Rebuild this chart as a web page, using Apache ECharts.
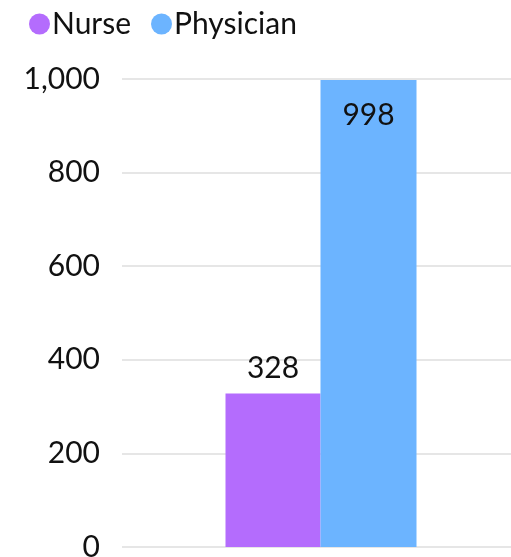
<!DOCTYPE html>
<html><head><meta charset="utf-8">
<script src="https://cdn.jsdelivr.net/npm/echarts@6/dist/echarts.min.js"></script>
<style>html,body{margin:0;padding:0;background:#fff}#c{width:511px;height:557px}</style>
</head><body><div id="c"></div>
<script>
const categories = [''];
const seriesNames = ['Nurse', 'Physician'];
const nurseValues = [328];
const physicianValues = [998];
const colors = ['#b46cfd', '#6cb4ff'];
const FONT = 'Lato';
const chart = echarts.init(document.getElementById('c'));
chart.setOption({
  animation: false,
  textStyle: {fontFamily: FONT},
  legend: {
    left: 24, top: 4, itemGap: 20, itemWidth: 21, itemHeight: 21, icon: 'circle',
    textStyle: {fontSize: 30, color: '#111', fontFamily: FONT, padding: [0,0,0,-3]},
    data: seriesNames
  },
  grid: {left: 122, right: -9, top: 79, bottom: 10, containLabel: false, outerBoundsMode: 'none'},
  xAxis: {type: 'category', data: categories, axisLine: {show: false}, axisTick: {show: false}, axisLabel: {show: false}},
  yAxis: {
    type: 'value', min: 0, max: 1000, interval: 200,
    axisLabel: {fontSize: 30, color: '#111', margin: 22, fontFamily: FONT,
      formatter: v => v.toLocaleString('en-US')},
    splitLine: {lineStyle: {color: '#e6e6e6', width: 2}},
    axisLine: {show: false}, axisTick: {show: false}
  },
  series: [
    {name: 'Nurse', type: 'bar', data: nurseValues, barWidth: 95, barGap: '0%', itemStyle: {color: colors[0]},
     label: {show: true, position: 'top', distance: 10, fontSize: 30, color: '#111', fontFamily: FONT}},
    {name: 'Physician', type: 'bar', data: physicianValues, barWidth: 96, itemStyle: {color: colors[1]},
     label: {show: true, position: 'insideTop', distance: 20, fontSize: 30, color: '#111', fontFamily: FONT}}
  ]
});
</script></body></html>
